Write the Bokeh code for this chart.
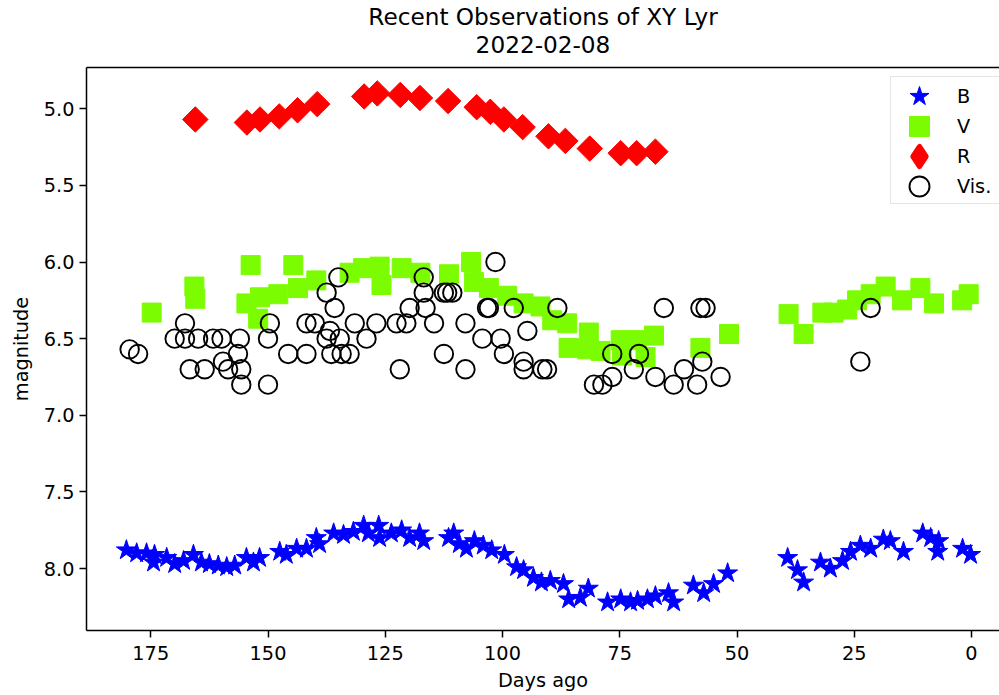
from bokeh.plotting import figure
from bokeh.models import (Range1d, LinearAxis, FixedTicker, Title, Legend, LegendItem,
                          PrintfTickFormatter)
from bokeh.embed import file_html
from bokeh.resources import INLINE

# ---------------- data (days ago, magnitude) ----------------
B_days = [180.2, 178.0, 175.9, 174.2, 174.4, 171.6, 169.9, 168.0, 165.9, 164.2, 162.5, 160.6,
          158.8, 157.1, 154.6, 153.1, 151.8, 147.5, 146.1, 143.9, 141.8, 139.7, 139.0, 136.0,
          133.9, 131.8, 129.6, 128.6, 126.4, 126.2, 123.7, 121.5, 119.8, 117.7, 116.8, 111.5,
          110.4, 109.2, 107.7, 106.0, 104.1, 102.3, 99.6, 97.0, 95.5, 93.4, 91.7, 89.8, 87.0,
          85.9, 83.4, 81.7, 77.6, 74.8, 72.7, 71.2, 69.1, 67.4, 64.6, 63.5, 59.3, 57.1, 55.0,
          52.0, 39.2, 37.1, 35.8, 32.2, 30.1, 27.5, 25.8, 23.7, 21.5, 18.8, 17.3, 14.5, 10.4,
          8.7, 7.0, 7.2, 1.9, 0.2]
B_mag = [7.88, 7.90, 7.90, 7.91, 7.96, 7.93, 7.97, 7.95, 7.91, 7.96, 7.97, 7.98,
         7.99, 7.98, 7.93, 7.96, 7.93, 7.89, 7.91, 7.87, 7.87, 7.80, 7.84, 7.77,
         7.78, 7.76, 7.72, 7.77, 7.72, 7.80, 7.77, 7.75, 7.80, 7.77, 7.82, 7.80,
         7.77, 7.84, 7.87, 7.82, 7.85, 7.88, 7.91, 7.99, 8.01, 8.06, 8.09, 8.08, 8.10,
         8.20, 8.19, 8.13, 8.22, 8.20, 8.22, 8.21, 8.20, 8.18, 8.16, 8.22, 8.11, 8.16, 8.10,
         8.03, 7.93, 8.01, 8.09, 7.96, 8.00, 7.95, 7.89, 7.85, 7.87, 7.81, 7.82, 7.89, 7.77,
         7.80, 7.82, 7.89, 7.87, 7.91]

V_days = [174.8, 165.7, 165.5, 153.7, 154.6, 152.1, 151.7, 147.8, 144.6, 143.6, 139.7, 132.6,
          129.7, 126.2, 125.8, 121.5, 117.5, 111.4, 106.7, 106.1, 102.9, 99.0, 95.5, 91.9,
          89.4, 86.2, 85.9, 81.6, 81.9, 79.1, 74.8, 74.5, 71.3, 69.5, 67.7, 57.8, 51.7,
          39.0, 35.8, 31.8, 29.4, 26.5, 24.4, 21.5, 18.3, 14.8, 10.9, 8.0, 2.0, 0.6]
V_mag = [6.33, 6.16, 6.24, 6.02, 6.27, 6.37, 6.23, 6.21, 6.02, 6.17, 6.12, 6.07,
         6.04, 6.03, 6.15, 6.04, 6.07, 6.08, 6.00, 6.13, 6.17, 6.22, 6.27, 6.29,
         6.38, 6.40, 6.56, 6.46, 6.57, 6.58, 6.51, 6.61, 6.51, 6.62, 6.48, 6.56, 6.47,
         6.34, 6.47, 6.33, 6.33, 6.31, 6.25, 6.21, 6.16, 6.25, 6.17, 6.27, 6.25, 6.21]

R_days = [165.5, 154.5, 151.7, 147.6, 143.7, 139.5, 129.5, 126.7, 121.8, 117.6, 111.6,
          105.5, 102.6, 99.7, 95.7, 90.2, 86.6, 81.4, 74.8, 71.4, 67.4]
R_mag = [5.07, 5.09, 5.07, 5.05, 5.01, 4.97, 4.92, 4.90, 4.91, 4.93, 4.95,
         4.99, 5.02, 5.07, 5.12, 5.18, 5.21, 5.26, 5.29, 5.29, 5.28]

Vis_days = [179.5, 177.7, 169.9, 167.7, 167.7, 166.7, 164.9, 163.5, 161.7, 159.9, 159.6, 158.5,
            156.4, 156.0, 155.7, 155.7, 150.0, 150.0, 149.6, 145.7, 141.8, 141.8, 140.0, 137.5,
            137.5, 136.8, 136.5, 135.8, 135.0, 134.7, 134.3, 132.6, 131.5, 129.0, 126.9, 122.6,
            121.9, 120.5, 119.8, 116.8, 116.8, 116.4, 114.6, 112.5, 111.8, 110.7, 112.5, 107.9,
            107.9, 104.3, 103.3, 102.9, 101.5, 100.4, 99.7, 97.6, 95.5, 95.5, 94.7, 91.5, 90.5,
            88.3, 80.5, 78.7, 76.6, 76.6, 72.0, 70.9, 67.4, 65.6, 63.5, 61.3, 58.5, 57.8, 57.4,
            56.7, 53.5, 23.7, 21.5]
Vis_mag = [6.57, 6.60, 6.50, 6.40, 6.50, 6.70, 6.50, 6.70, 6.50, 6.50, 6.65, 6.70,
           6.60, 6.50, 6.70, 6.80, 6.50, 6.80, 6.40, 6.60, 6.40, 6.60, 6.40, 6.20,
           6.50, 6.45, 6.60, 6.30, 6.10, 6.50, 6.60, 6.60, 6.40, 6.50, 6.40, 6.40,
           6.70, 6.40, 6.30, 6.10, 6.20, 6.30, 6.40, 6.20, 6.20, 6.20, 6.60, 6.40,
           6.70, 6.50, 6.30, 6.30, 6.00, 6.50, 6.60, 6.30, 6.65, 6.70, 6.45, 6.70, 6.70,
           6.30, 6.80, 6.80, 6.75, 6.60, 6.70, 6.60, 6.75, 6.30, 6.80, 6.70, 6.80, 6.30, 6.65,
           6.30, 6.75, 6.65, 6.30]

X_TICKS = [0, 25, 50, 75, 100, 125, 150, 175]
Y_TICKS = [5.0, 5.5, 6.0, 6.5, 7.0, 7.5, 8.0]

TITLE = "Recent Observations of XY Lyr"
SUBTITLE = "2022-02-08"
SERIES = ["B", "V", "R", "Vis."]

# ---------------- figure ----------------
FONT = "DejaVu Sans"
TICK_FS = "19.3px"

p = figure(width=999, height=695,
           x_range=Range1d(188.7, -5.97), y_range=Range1d(8.404, 4.731),
           output_backend="svg", toolbar_location=None,
           min_border_left=86, min_border_right=0, min_border_top=67, min_border_bottom=65)
p.background_fill_color = "white"
p.border_fill_color = "white"
p.outline_line_color = None
p.grid.visible = False

rb = p.scatter(B_days, B_mag, marker="star", size=21, fill_color="#0000ff",
               line_color="#0000ff", line_width=1)
rv = p.scatter(V_days, V_mag, marker="square", size=19, fill_color="#7cfc00",
               line_color="#7cfc00", line_width=1)
rr = p.scatter(R_days, R_mag, marker="square", size=18, angle=45, angle_units="deg",
               fill_color="#ff0000", line_color="#ff0000", line_width=1)
rvis = p.scatter(Vis_days, Vis_mag, marker="circle", size=18.5, fill_color=None,
                 line_color="black", line_width=1.9)

# hidden twins used only as legend handles (legend glyphs are never rotated)
kr = p.scatter(R_days, R_mag, marker="diamond", fill_color="#ff0000", line_color="#ff0000",
               line_width=5, line_join="round", visible=False)
kbox = p.scatter(R_days, R_mag, marker="circle", fill_alpha=0, line_alpha=0, visible=False)

xa = p.xaxis[0]
xa.ticker = FixedTicker(ticks=X_TICKS)
xa.axis_label = "Days ago"
ya = p.yaxis[0]
ya.ticker = FixedTicker(ticks=Y_TICKS)
ya.formatter = PrintfTickFormatter(format="%.1f")
ya.axis_label = "magnitude"
for ax in (xa, ya):
    ax.axis_line_width = 1.5
    ax.axis_line_color = "black"
    ax.major_tick_line_width = 1.5
    ax.major_tick_line_color = "black"
    ax.major_tick_in = 0
    ax.major_tick_out = 7
    ax.minor_tick_line_color = None
    ax.major_label_text_font = FONT
    ax.major_label_text_font_size = TICK_FS
    ax.major_label_text_color = "black"
    ax.axis_label_text_font = FONT
    ax.axis_label_text_font_size = TICK_FS
    ax.axis_label_text_font_style = "normal"
    ax.axis_label_text_color = "black"
xa.major_label_standoff = 8
xa.axis_label_standoff = 6
ya.major_label_standoff = 5
ya.axis_label_standoff = 8

# top spine (no ticks)
top = LinearAxis(ticker=FixedTicker(ticks=[]), major_label_text_font_size="0px",
                 major_tick_out=0, major_tick_in=0, minor_tick_out=0, minor_tick_in=0,
                 major_tick_line_color=None, minor_tick_line_color=None,
                 axis_line_width=1.5, axis_line_color="black", major_label_standoff=0)
p.add_layout(top, "above")

# small blank spacer between the spine and the two title lines
spacer = Title(text=" ", text_font=FONT, text_font_size="8px", standoff=0)
p.add_layout(spacer, "above")
t2 = Title(text=SUBTITLE, align="center", text_font=FONT, text_font_size="23.2px",
           text_font_style="normal", text_color="black", standoff=8)
p.add_layout(t2, "above")
t1 = Title(text=TITLE, align="center", text_font=FONT, text_font_size="23.2px",
           text_font_style="normal", text_color="black", standoff=0)
p.add_layout(t1, "above")

# legend: one framed box plus four transparent single-row legends stacked 30px apart
lab = dict(label_text_font=FONT, label_text_font_size=TICK_FS, label_text_color="black")
box = Legend(items=[LegendItem(label=" ", renderers=[kbox])], location=(804, 426),
             padding=0, margin=0, glyph_width=110, glyph_height=126, label_height=126,
             label_standoff=0, border_line_color="#cccccc", border_line_width=1.4,
             background_fill_color="white", background_fill_alpha=0.8, **lab)
p.add_layout(box)
handles = [rb, rv, kr, rvis]
for k, (name, rend) in enumerate(zip(SERIES, handles)):
    leg = Legend(items=[LegendItem(label=name, renderers=[rend])],
                 location=(804, 509 - 30 * k), padding=0, margin=0,
                 glyph_width=58, glyph_height=50, label_height=50, label_standoff=9,
                 border_line_color=None, background_fill_alpha=0, **lab)
    p.add_layout(leg)

open("out.html", "w").write(file_html(p, INLINE))
